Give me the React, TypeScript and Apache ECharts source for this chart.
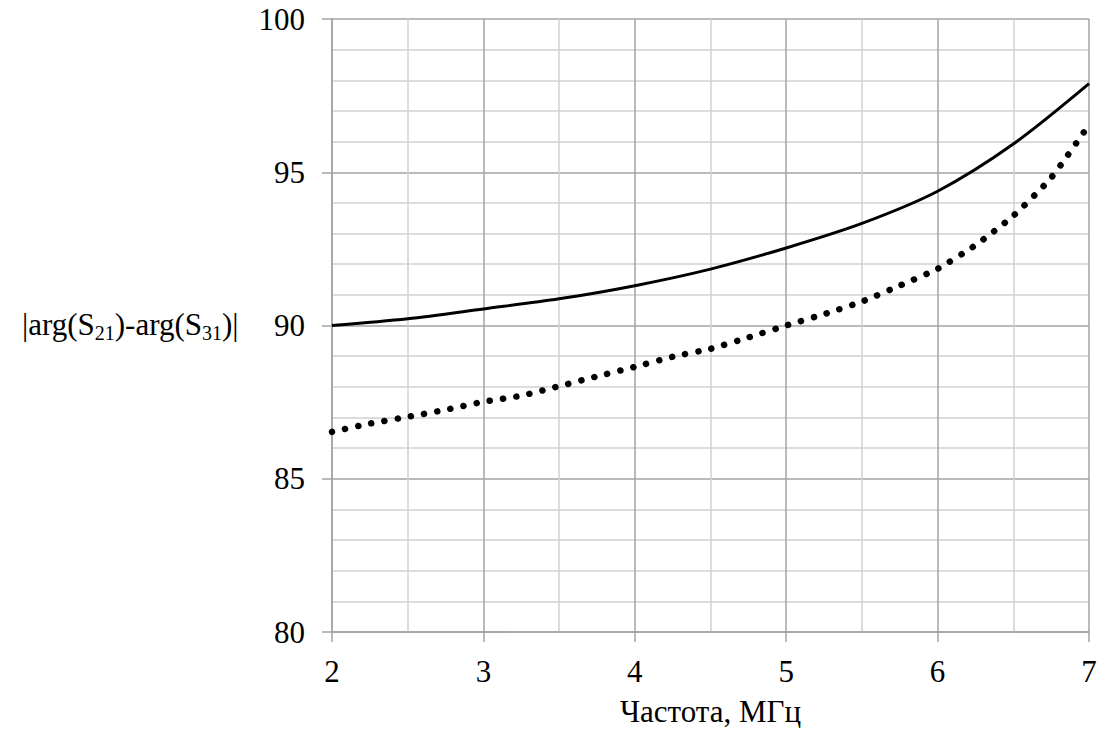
import React, { useEffect, useRef } from "react";
import * as echarts from "echarts";

const solidX = [2, 2.5, 3, 3.5, 4, 4.5, 5, 5.5, 6, 6.5, 7];
const solidY = [90.0, 90.22, 90.54, 90.87, 91.3, 91.84, 92.53, 93.33, 94.38, 95.92, 97.89];

const dottedX = [2, 2.25, 2.5, 2.75, 3, 3.25, 3.5, 3.75, 4, 4.25, 4.5, 4.75, 5, 5.25, 5.5, 5.75, 6, 6.25, 6.5, 6.75, 7];
const dottedY = [86.53, 86.8, 87.02, 87.25, 87.51, 87.71, 88.02, 88.34, 88.65, 88.98, 89.24, 89.61, 90.0, 90.37, 90.78, 91.3, 91.85, 92.62, 93.58, 94.82, 96.55];

const xName = "Частота, МГц";
const yName = "{n||arg(S}{sub|21}{n|)-arg(S}{sub|31}{n|)|}";

export default function App() {
  const ref = useRef<HTMLDivElement>(null);
  useEffect(() => {
    if (!ref.current) return;
    const chart = echarts.init(ref.current, null, { renderer: "svg" });
    const font = "Liberation Serif";
    const major = "#a3a3a3";
    const minor = "#d0d0d0";
    chart.setOption({
      animation: false,
      backgroundColor: "#fff",
      textStyle: { fontFamily: font, color: "#000" },
      grid: { left: 332, top: 19, width: 757, height: 613, containLabel: false, outerBoundsMode: "none" },
      xAxis: {
        type: "value",
        min: 2,
        max: 7,
        interval: 1,
        name: xName,
        nameLocation: "middle",
        nameGap: 64,
        nameTextStyle: { fontFamily: font, fontSize: 31, color: "#000" },
        axisLine: { show: true, lineStyle: { color: major, width: 1.5 } },
        axisTick: { show: true, inside: false, length: 10, lineStyle: { color: major, width: 1.5 } },
        axisLabel: { fontFamily: font, fontSize: 31, color: "#000", margin: 24 },
        splitLine: { show: true, lineStyle: { color: major, width: 1.5 } },
        minorTick: { show: false, splitNumber: 2 },
        minorSplitLine: { show: true, lineStyle: { color: minor, width: 1.5 } },
      },
      yAxis: {
        type: "value",
        min: 80,
        max: 100,
        interval: 5,
        axisLine: { show: true, lineStyle: { color: major, width: 1.5 } },
        axisTick: { show: true, inside: false, length: 10, lineStyle: { color: major, width: 1.5 } },
        axisLabel: { fontFamily: font, fontSize: 31, color: "#000", margin: 27 },
        splitLine: { show: true, lineStyle: { color: major, width: 1.5 } },
        minorTick: { show: false, splitNumber: 5 },
        minorSplitLine: { show: true, lineStyle: { color: minor, width: 1.5 } },
      },
      graphic: [
        {
          type: "text",
          x: 22,
          y: 326,
          style: {
            text: yName,
            fontFamily: font,
            fontSize: 31,
            fill: "#000",
            verticalAlign: "middle",
            align: "left",
            rich: {
              n: { fontFamily: font, fontSize: 31, fill: "#000", padding: [0, 0, 3, 0], verticalAlign: "bottom" },
              sub: { fontFamily: font, fontSize: 20, fill: "#000", verticalAlign: "bottom" },
            },
          },
        },
      ],
      series: [
        {
          type: "line",
          data: solidX.map((x, i) => [x, solidY[i]]),
          smooth: 0.3,
          showSymbol: false,
          lineStyle: { color: "#000", width: 3 },
        },
        {
          type: "line",
          data: dottedX.map((x, i) => [x, dottedY[i]]),
          smooth: 0.2,
          showSymbol: false,
          lineStyle: { color: "#000", width: 6.5, type: [0.1, 13.3], cap: "round" },
        },
      ],
    });
    return () => chart.dispose();
  }, []);
  return (
    <div
      ref={ref}
      style={{ position: "fixed", left: 0, top: 0, width: 1120, height: 729, background: "#fff" }}
    />
  );
}
